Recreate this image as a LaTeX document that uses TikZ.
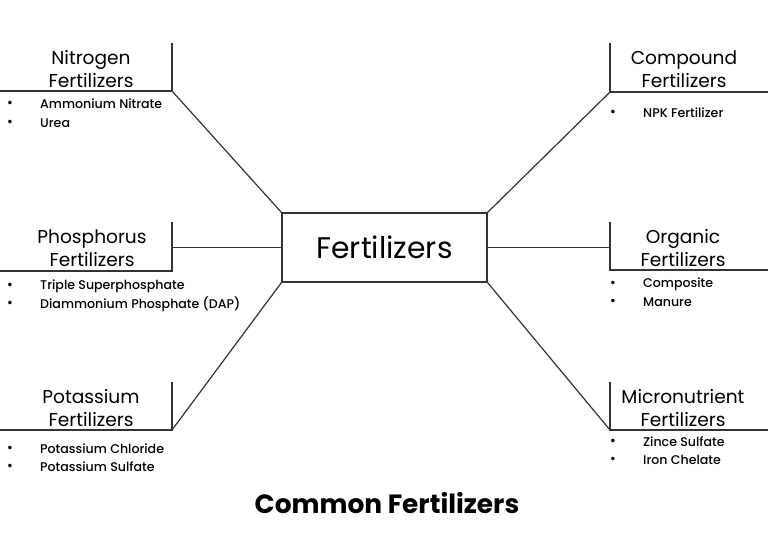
\documentclass[tikz,border=0pt]{standalone}
\usepackage{fontspec}
\setmainfont{Poppins}
\newfontfamily\popmed{Poppins}[UprightFont={* Medium}]
\begin{document}
\begin{tikzpicture}[x=1pt,y=-1pt,
  ln/.style={draw=black!80, line width=1.2pt},
  head/.style={font=\fontsize{18.6}{22.5}\selectfont, align=center, inner sep=0pt},
  item/.style={font=\popmed\fontsize{12.6}{14}\selectfont, anchor=west, inner sep=0pt},
  bul/.style={font=\popmed\fontsize{13.5}{14}\selectfont, inner sep=0pt}]
\useasboundingbox (0,0) rectangle (768,544);
\fill[white] (0,0) rectangle (768,544);
% central box
\node[ln, minimum width=205pt, minimum height=69pt, inner sep=0pt,
  font=\fontsize{29.8}{34}\selectfont] (c) at (384.5,247.5) {Fertilizers};
% corner coordinates
\coordinate (ntop) at (172,43); \coordinate (ncor) at (172,91); \coordinate (nleft) at (0,91);
\coordinate (ptop) at (172,222); \coordinate (pcor) at (172,271); \coordinate (pleft) at (0,271);
\coordinate (pmid) at (172,247.5);
\coordinate (ktop) at (172,382); \coordinate (kcor) at (172,430); \coordinate (kleft) at (0,430);
\coordinate (ctop) at (610,43); \coordinate (ccor) at (610,92); \coordinate (cright) at (768,92);
\coordinate (otop) at (610,222); \coordinate (ocor) at (610,270); \coordinate (oright) at (768,270);
\coordinate (omid) at (610,247.5);
\coordinate (mtop) at (610,382); \coordinate (mcor) at (610,430); \coordinate (mright) at (768,430);
% brackets
\draw[ln] (ntop) -- (ncor) -- (nleft);
\draw[ln] (ptop) -- (pcor) -- (pleft);
\draw[ln] (ktop) -- (kcor) -- (kleft);
\draw[ln] (ctop) -- (ccor) -- (cright);
\draw[ln] (otop) -- (ocor) -- (oright);
\draw[ln] (mtop) -- (mcor) -- (mright);
% connectors
\draw[ln] (ncor) -- (c.north west);
\draw[ln] (pmid) -- (c.west);
\draw[ln] (kcor) -- (c.south west);
\draw[ln] (ccor) -- (c.north east);
\draw[ln] (omid) -- (c.east);
\draw[ln] (mcor) -- (c.south east);
% headings
\node[head] (nh) at (91,69) {Nitrogen\\Fertilizers};
\node[head] (ph) at (92,248) {Phosphorus\\Fertilizers};
\node[head] (kh) at (91,408) {Potassium\\Fertilizers};
\node[head] (ch) at (684,69) {Compound\\Fertilizers};
\node[head] (oh) at (683,248) {Organic\\Fertilizers};
\node[head] (mh) at (683,408) {Micronutrient\\Fertilizers};
% items
\node[bul] (nb1) at (10,104) {•}; \node[item] (ni1) at (40,104) {Ammonium Nitrate};
\node[bul] (nb2) at (10,123) {•}; \node[item] (ni2) at (40,123) {Urea};
\node[bul] (pb1) at (10,286) {•}; \node[item] (pi1) at (40,286) {Triple Superphosphate};
\node[bul] (pb2) at (10,304) {•}; \node[item] (pi2) at (40,304) {Diammonium Phosphate (DAP)};
\node[bul] (kb1) at (10,449) {•}; \node[item] (ki1) at (40,449) {Potassium Chloride};
\node[bul] (kb2) at (10,467) {•}; \node[item] (ki2) at (40,467) {Potassium Sulfate};
\node[bul] (cb1) at (613,113) {•}; \node[item] (ci1) at (643,113) {NPK Fertilizer};
\node[bul] (ob1) at (613,284) {•}; \node[item] (oi1) at (643,284) {Composite};
\node[bul] (ob2) at (613,302) {•}; \node[item] (oi2) at (643,302) {Manure};
\node[bul] (mb1) at (613,442) {•}; \node[item] (mi1) at (643,442) {Zince Sulfate};
\node[bul] (mb2) at (613,460) {•}; \node[item] (mi2) at (643,460) {Iron Chelate};
% title
\node[font=\fontsize{26.4}{30}\selectfont\bfseries, inner sep=0pt] (title) at (387,503) {Common Fertilizers};
\end{tikzpicture}
\end{document}
